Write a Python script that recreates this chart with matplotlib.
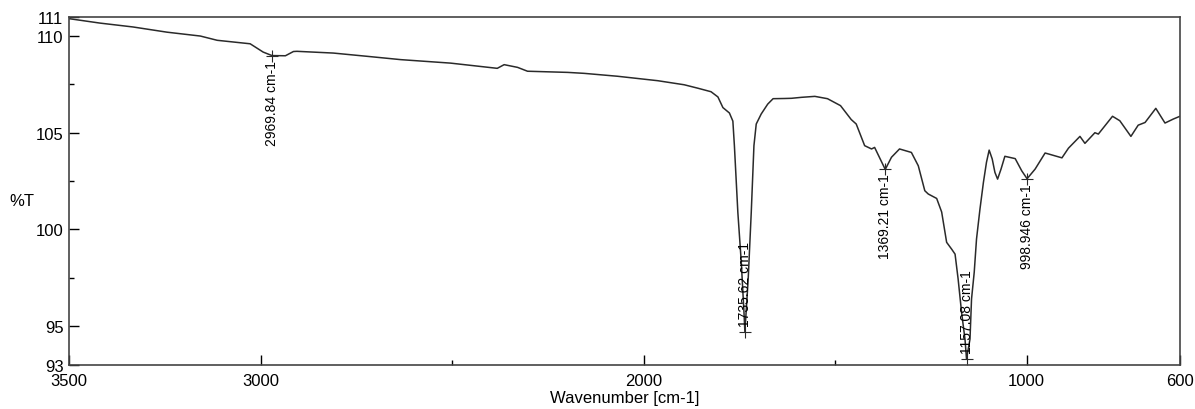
import numpy as np
import matplotlib.pyplot as plt
from matplotlib.ticker import FixedLocator

plt.rcParams['font.family'] = ['Liberation Sans', 'DejaVu Sans']

# spectrum (wavenumber, %T)
wavenumber = [3500, 3419, 3333, 3244, 3157, 3113, 3027, 2993, 2970, 2935, 2914, 2905,
              2810, 2721, 2634, 2504, 2382, 2364, 2329, 2303, 2198, 2155, 2068, 1963,
              1894, 1858, 1824, 1806, 1793, 1776, 1767, 1763, 1754, 1745, 1738, 1735.6,
              1727, 1719, 1712, 1706, 1693, 1676, 1662, 1632, 1614, 1588, 1553, 1520,
              1486, 1458, 1445, 1423, 1405, 1397, 1369.2, 1353, 1332, 1301, 1283, 1266,
              1257, 1235, 1222, 1209, 1196, 1187, 1179, 1170, 1161, 1157.1, 1148, 1144,
              1137, 1131, 1122, 1113, 1105, 1098, 1090, 1083, 1076, 1067, 1057, 1030,
              1013, 999, 978, 952, 943, 908, 891, 861, 848, 822, 813, 776, 757, 728,
              709, 691, 663, 639, 617, 600]
transmittance = [110.90, 110.67, 110.47, 110.20, 110.00, 109.78, 109.60, 109.17, 108.99,
                 108.98, 109.20, 109.21, 109.12, 108.95, 108.78, 108.60, 108.33, 108.52,
                 108.38, 108.18, 108.12, 108.07, 107.92, 107.69, 107.48, 107.30, 107.12,
                 106.85, 106.30, 106.02, 105.60, 104.33, 100.88, 98.29, 95.71, 94.70,
                 97.43, 100.88, 104.33, 105.45, 105.97, 106.48, 106.76, 106.77, 106.78,
                 106.83, 106.88, 106.76, 106.40, 105.68, 105.45, 104.33, 104.16, 104.24,
                 103.10, 103.73, 104.16, 103.98, 103.29, 102.00, 101.83, 101.60, 100.90,
                 99.33, 98.98, 98.72, 97.43, 95.71, 94.30, 93.30, 94.33, 96.40, 97.78,
                 99.50, 101.05, 102.43, 103.47, 104.10, 103.64, 102.95, 102.60, 103.12,
                 103.78, 103.66, 103.03, 102.62, 103.12, 103.95, 103.90, 103.70, 104.20,
                 104.81, 104.45, 105.00, 104.93, 105.85, 105.62, 104.81, 105.39, 105.53,
                 106.26, 105.50, 105.71, 105.85]

# labelled peaks
peak_wn = [2969.84, 1735.62, 1369.21, 1157.08, 998.946]
peak_t = [108.99, 94.70, 103.10, 93.30, 102.62]
peak_labels = ['2969.84 cm-1', '1735.62 cm-1', '1369.21 cm-1', '1157.08 cm-1', '998.946 cm-1']
label_above = [False, True, False, True, False]

xticks = [3500, 3000, 2000, 1000, 600]
xminor = [2500, 1500]
yticks = [93, 95, 100, 105, 110, 111]
yminor = [97.5, 102.5, 107.5]

fig = plt.figure(figsize=(11.95, 4.10), dpi=100)
ax = fig.add_axes([0.0577, 0.108, 0.9297, 0.8488])

ax.plot(wavenumber, transmittance, color='#2a2a2a', lw=1.1)

for wn, t, lab, above in zip(peak_wn, peak_t, peak_labels, label_above):
    ax.plot(wn, t, marker='+', ms=9, mew=0.8, color='#2a2a2a')
    if above:
        ax.annotate(lab, (wn, t), xytext=(0, 4), textcoords='offset points',
                    rotation=90, ha='center', va='bottom', fontsize=10)
    else:
        ax.annotate(lab, (wn, t), xytext=(0, -3), textcoords='offset points',
                    rotation=90, ha='center', va='top', fontsize=10)

ax.set_xlim(3500, 600)
ax.set_ylim(93, 111)
ax.set_xticks(xticks)
ax.set_yticks(yticks)
ax.xaxis.set_minor_locator(FixedLocator(xminor))
ax.yaxis.set_minor_locator(FixedLocator(yminor))
ax.tick_params(which='major', direction='in', length=7, width=1, labelsize=12, pad=4)
ax.tick_params(axis='x', which='major', pad=6)
ax.tick_params(which='minor', direction='in', length=3.5, width=1)

ax.set_xlabel('Wavenumber [cm-1]', fontsize=12, labelpad=1.5)
ax.set_ylabel('%T', fontsize=12, rotation=0, ha='center', va='center')
ax.yaxis.set_label_coords(-0.042, 0.473)

for s in ax.spines.values():
    s.set_color('#444444')
    s.set_linewidth(1.2)

plt.savefig('out.png', dpi=100)
